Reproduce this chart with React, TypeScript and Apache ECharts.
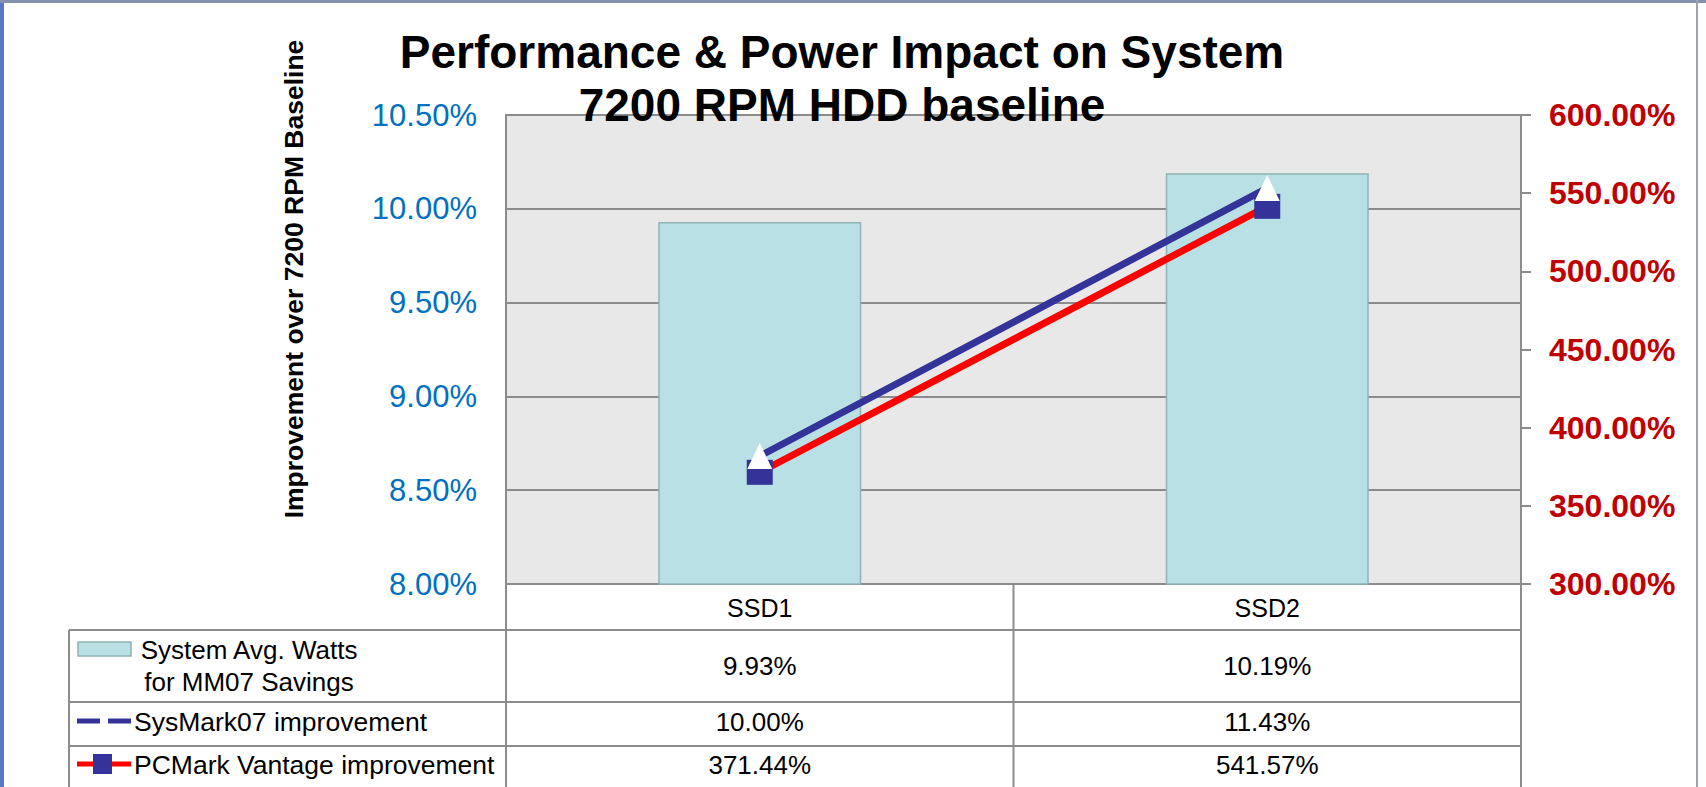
import React, { useEffect, useRef } from 'react';
import * as echarts from 'echarts';

// ---- data ----
const categories = ['SSD1', 'SSD2'];
const wattsSavings = [9.93, 10.19];
const sysMarkImprovement = [10.0, 11.43];
const pcMarkImprovement = [371.44, 541.57];
const seriesNames = ['System Avg. Watts\nfor MM07 Savings', 'SysMark07 improvement', 'PCMark Vantage improvement'];
const titleText = 'Performance & Power Impact on System\n7200 RPM HDD baseline';
const yAxisTitle = 'Improvement over 7200 RPM Baseline';
const leftAxisRange = { min: 8, max: 10.5, interval: 0.5 };
const rightAxisRange = { min: 300, max: 600, interval: 50 };
const sysMarkAxisRange = { min: 9.317, max: 11.82 };

const FONT = '"Liberation Sans", Arial, Helvetica, sans-serif';
const GRID_COLOR = '#8c8c8c';
const BAR_FILL = '#b9e0e4';
const BAR_BORDER = '#8fb3b7';
const NAVY = '#333399';
const RED = '#ff0000';

const W = 1706;
const H = 787;
const GRID = { left: 506, top: 115, right: W - 1521, bottom: H - 584 };

const pct = (v: number) => v.toFixed(2) + '%';

export default function App() {
  const ref = useRef<HTMLDivElement>(null);

  useEffect(() => {
    if (!ref.current) return;
    const chart = echarts.init(ref.current, undefined, { renderer: 'svg' });

    chart.setOption({
      animation: false,
      backgroundColor: '#ffffff',
      grid: {
        left: GRID.left,
        top: GRID.top,
        right: GRID.right,
        bottom: GRID.bottom,
        show: true,
        backgroundColor: '#e8e8e8',
        borderColor: GRID_COLOR,
        borderWidth: 2,
        containLabel: false,
      },
      xAxis: {
        type: 'category',
        data: categories,
        axisLine: { show: true, lineStyle: { color: GRID_COLOR, width: 2 } },
        axisTick: { show: false },
        axisLabel: { color: '#000', fontSize: 25, fontFamily: FONT, margin: 11 },
        splitLine: { show: false },
      },
      yAxis: [
        {
          type: 'value',
          min: leftAxisRange.min,
          max: leftAxisRange.max,
          interval: leftAxisRange.interval,
          position: 'left',
          axisLine: { show: true, lineStyle: { color: GRID_COLOR, width: 2 } },
          axisTick: { show: false },
          axisLabel: { color: '#0070c0', fontSize: 31, fontFamily: FONT, margin: 29, formatter: (v: number) => pct(v) },
          splitLine: { show: true, lineStyle: { color: GRID_COLOR, width: 2 } },
        },
        {
          type: 'value',
          min: rightAxisRange.min,
          max: rightAxisRange.max,
          interval: rightAxisRange.interval,
          position: 'right',
          axisLine: { show: true, lineStyle: { color: GRID_COLOR, width: 2 } },
          axisTick: { show: true, inside: false, length: 10, lineStyle: { color: GRID_COLOR, width: 2 } },
          axisLabel: { color: '#c00000', fontSize: 32, fontWeight: 'bold', fontFamily: FONT, margin: 28, formatter: (v: number) => pct(v) },
          splitLine: { show: false },
        },
        {
          type: 'value',
          show: false,
          min: sysMarkAxisRange.min,
          max: sysMarkAxisRange.max,
          position: 'right',
          splitLine: { show: false },
        },
      ],
      series: [
        {
          name: seriesNames[0],
          type: 'bar',
          yAxisIndex: 0,
          data: wattsSavings,
          barCategoryGap: '60%',
          itemStyle: { color: BAR_FILL, borderColor: BAR_BORDER, borderWidth: 1.5 },
          z: 2,
        },
        {
          name: seriesNames[2],
          type: 'line',
          yAxisIndex: 1,
          data: pcMarkImprovement,
          lineStyle: { color: RED, width: 7 },
          symbol: 'rect',
          symbolSize: [26, 25],
          itemStyle: { color: NAVY, borderWidth: 0 },
          z: 3,
        },
        {
          name: seriesNames[1],
          type: 'line',
          yAxisIndex: 2,
          data: sysMarkImprovement,
          lineStyle: { color: NAVY, width: 7 },
          symbol: 'triangle',
          symbolSize: [25, 26],
          itemStyle: { color: '#ffffff', borderWidth: 0 },
          z: 4,
        },
      ],
    });

    // ---- data table under the plot, positioned through the category axis ----
    const centers = categories.map((c) => chart.convertToPixel({ xAxisIndex: 0 }, c) as number);
    const step = centers.length > 1 ? centers[1] - centers[0] : 0;
    const colLines = [centers[0] - step / 2, ...centers.map((c) => c + step / 2)];
    const plotBottom = H - GRID.bottom;
    const tableLeft = 69;
    const tableRight = colLines[colLines.length - 1];
    const rowLines = [630, 702, 746];
    const rowCenters = [666, 722, 765];
    const rowValues = [wattsSavings, sysMarkImprovement, pcMarkImprovement];
    const lineStyle = { stroke: GRID_COLOR, lineWidth: 2 };

    const elements: any[] = [];
    colLines.forEach((x) => {
      elements.push({ type: 'line', shape: { x1: x, y1: plotBottom, x2: x, y2: H }, style: lineStyle, z: 50 });
    });
    elements.push({ type: 'line', shape: { x1: tableLeft, y1: rowLines[0], x2: tableLeft, y2: H }, style: lineStyle, z: 50 });
    rowLines.forEach((y) => {
      elements.push({ type: 'line', shape: { x1: tableLeft, y1: y, x2: tableRight, y2: y }, style: lineStyle, z: 50 });
    });
    rowValues.forEach((vals, r) => {
      vals.forEach((v, i) => {
        elements.push({
          type: 'text',
          x: centers[i],
          y: rowCenters[r],
          style: { text: pct(v), font: `26px ${FONT}`, fill: '#000', textAlign: 'center', textVerticalAlign: 'middle' },
          z: 50,
        });
      });
    });
    // legend keys
    elements.push({ type: 'rect', shape: { x: 78, y: 642, width: 53, height: 14 }, style: { fill: BAR_FILL, stroke: BAR_BORDER, lineWidth: 1.5 }, z: 50 });
    elements.push({
      type: 'text', x: 249, y: rowCenters[0],
      style: { text: seriesNames[0], font: `26px ${FONT}`, fill: '#000', textAlign: 'center', textVerticalAlign: 'middle', lineHeight: 32 },
      z: 50,
    });
    elements.push({ type: 'line', shape: { x1: 77, y1: 721, x2: 100, y2: 721 }, style: { stroke: NAVY, lineWidth: 5 }, z: 50 });
    elements.push({ type: 'line', shape: { x1: 108, y1: 721, x2: 131, y2: 721 }, style: { stroke: NAVY, lineWidth: 5 }, z: 50 });
    elements.push({ type: 'polygon', shape: { points: [[104, 713], [99, 727], [109, 727]] }, style: { fill: '#ffffff' }, z: 51 });
    elements.push({
      type: 'text', x: 134, y: rowCenters[1],
      style: { text: seriesNames[1], font: `26.5px ${FONT}`, fill: '#000', textAlign: 'left', textVerticalAlign: 'middle' },
      z: 50,
    });
    elements.push({ type: 'line', shape: { x1: 77, y1: 764, x2: 131, y2: 764 }, style: { stroke: RED, lineWidth: 5 }, z: 50 });
    elements.push({ type: 'rect', shape: { x: 93, y: 754, width: 19, height: 20 }, style: { fill: NAVY }, z: 51 });
    elements.push({
      type: 'text', x: 134, y: rowCenters[2],
      style: { text: seriesNames[2], font: `26.5px ${FONT}`, fill: '#000', textAlign: 'left', textVerticalAlign: 'middle' },
      z: 50,
    });
    // titles
    elements.push({
      type: 'text', x: 842, y: 25,
      style: { text: titleText, font: `bold 46px ${FONT}`, fill: '#000', textAlign: 'center', textVerticalAlign: 'top', lineHeight: 53 },
      z: 100,
    });
    elements.push({
      type: 'text', x: 294, y: 279, rotation: Math.PI / 2,
      style: { text: yAxisTitle, font: `bold 26.5px ${FONT}`, fill: '#000', textAlign: 'center', textVerticalAlign: 'middle' },
      z: 100,
    });
    // slide frame
    elements.push({ type: 'rect', shape: { x: 0, y: 0, width: 4, height: H }, style: { fill: '#5a78c4' }, z: 100 });
    elements.push({ type: 'rect', shape: { x: 0, y: 0, width: W, height: 3 }, style: { fill: '#8592ad' }, z: 100 });
    elements.push({ type: 'rect', shape: { x: 1696, y: 0, width: 2, height: H }, style: { fill: '#9aa3b8' }, z: 100 });

    chart.setOption({ graphic: { elements } });

    return () => chart.dispose();
  }, []);

  return (
    <div
      ref={ref}
      style={{ position: 'fixed', left: 0, top: 0, width: W, height: H, background: '#fff' }}
    />
  );
}
